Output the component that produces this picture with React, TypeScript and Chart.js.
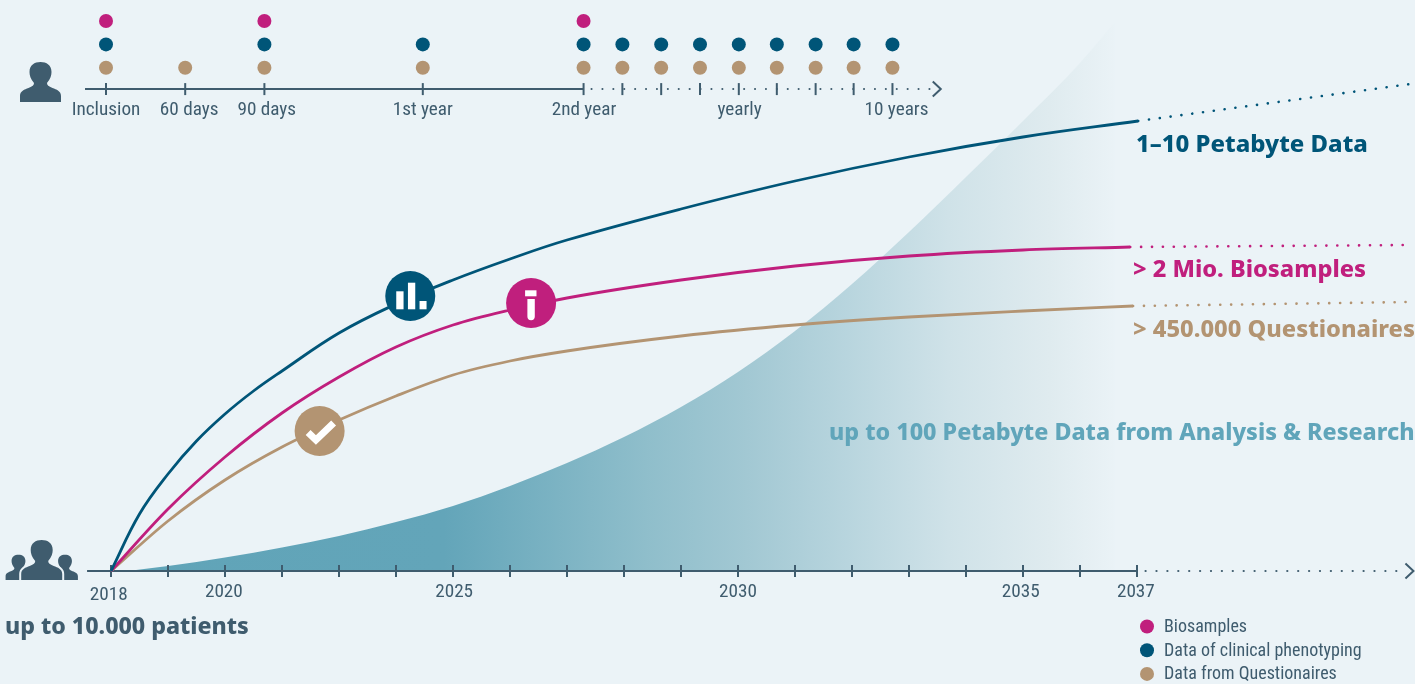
import React, { useEffect, useRef } from "react";
import { Chart, registerables } from "chart.js";

Chart.register(...registerables);

// ---- bottom time axis (x = axis step from 2018, y = relative growth index)
const axisTickSteps = [0, 1, 2, 3, 4, 5, 6, 7, 8, 9, 10, 11, 12, 13, 14, 15, 16, 17, 18];
const axisLabels = ["2020", "2025", "2030", "2035", "2037"];
const axisLabelSteps = [1.98, 6.02, 11, 15.96, 17.98];
const startLabels = ["2018"];
const startLabelSteps = [-0.04];

const clinicalX = [0, 0.5, 1, 1.5, 2, 2.5, 3, 4, 5, 6, 7, 8, 10, 12, 14, 16, 18.02];
const clinicalY = [0, 57, 97, 130, 157, 180, 200, 238, 267, 291, 312, 331, 362, 390, 414, 434, 450];
const biosampleX = [0, 1, 2, 3, 4, 5, 6, 7, 8, 10, 12, 14, 16, 17.88];
const biosampleY = [0, 62, 114, 158, 194, 224, 246, 261, 273, 291, 305, 315, 321, 324];
const questionX = [0, 1, 2, 3, 4, 5, 6, 7, 8, 10, 12, 14, 16, 17.93];
const questionY = [0, 50, 91, 124, 151, 175, 196, 210, 220, 235, 246, 254, 260, 265];
const researchX = [0.3, 1, 2, 3, 4, 5, 6, 7, 8, 9, 10, 11, 12, 13, 14, 15, 16, 17, 17.6];
const researchY = [0, 5, 13.5, 23.5, 35, 49, 65, 85, 108, 134, 164, 199, 240, 287, 339, 394, 450, 508, 548];

const clinicalTrendX = [18.02, 22.8];
const clinicalTrendY = [450, 487];
const biosampleTrendX = [17.88, 22.8];
const biosampleTrendY = [324, 326];
const questionTrendX = [17.93, 22.8];
const questionTrendY = [265, 269];

const iconX = [5.25, 7.37, 3.66];
const iconY = [275, 268, 140];

// ---- timeline (x = schedule step, y = row)
const timelineMarks = [0, 1, 2, 4, 6.03, 6.52, 7.01, 7.5, 7.99, 8.47, 8.96, 9.44, 9.93];
const timelineLabels = ["Inclusion", "60 days", "90 days", "1st year", "2nd year", "yearly", "10 years"];
const timelineLabelSteps = [0, 1.05, 2.03, 4, 6.035, 8, 9.98];
const biosampleVisits = [0, 2, 6.03];
const clinicalVisits = [0, 2, 4, 6.03, 6.52, 7.01, 7.5, 7.99, 8.47, 8.96, 9.44, 9.93];
const questionVisits = [0, 1, 2, 4, 6.03, 6.52, 7.01, 7.5, 7.99, 8.47, 8.96, 9.44, 9.93];

const legendLabels = ["Biosamples", "Data of clinical phenotyping", "Data from Questionaires"];

const MAGENTA = "#c01f7d";
const BLUE = "#005578";
const TAN = "#b39472";
const SLATE = "#3f5c6e";
const TEAL = "#60a5ba";
const BG = "#ebf3f7";
const NARROW = "'Roboto Condensed', Roboto, sans-serif";
const BOLD = "'Noto Sans', sans-serif";

const W = 1415;
const H = 684;
const pts = (xs: number[], ys: number[]) => xs.map((x, i) => ({ x, y: ys[i] }));
const flat = (xs: number[], y: number) => xs.map((x) => ({ x, y }));

const line = (data: any[], color: string, order: number, width = 2.8, x = "x", y = "y") => ({
  data,
  borderColor: color,
  borderWidth: width,
  showLine: true,
  pointRadius: 0,
  cubicInterpolationMode: "monotone",
  xAxisID: x,
  yAxisID: y,
  order,
});
const dotted = (data: any[], color: string, order: number, width = 2.6, x = "x", y = "y") => ({
  ...line(data, color, order, width, x, y),
  cubicInterpolationMode: "default",
  borderDash: [0.1, 10.8],
  borderCapStyle: "round",
});
const marks = (data: any[], x: string, y: string) => ({
  data,
  showLine: false,
  pointStyle: "line",
  pointRotation: 90,
  pointRadius: 6,
  pointBorderWidth: 2,
  pointBorderColor: SLATE,
  xAxisID: x,
  yAxisID: y,
  order: 3,
});
const dots = (data: any[], color: string, radius: number, order: number, x: string, y: string) => ({
  data,
  showLine: false,
  pointRadius: radius,
  pointBackgroundColor: color,
  pointBorderWidth: 0,
  xAxisID: x,
  yAxisID: y,
  order,
});

const axisLabelFont = { family: NARROW, size: 19.2 };
const labelAxis = (
  values: number[],
  labels: string[],
  position: any,
  padding: number,
  min: number,
  max: number
) => ({
  type: "linear",
  axis: "x",
  min,
  max,
  position,
  grid: { display: false },
  border: { display: false },
  afterBuildTicks: (scale: any) => {
    scale.ticks = values.map((value) => ({ value }));
  },
  ticks: {
    autoSkip: false,
    maxRotation: 0,
    padding,
    color: SLATE,
    font: axisLabelFont,
    callback: (v: number) => labels[values.indexOf(v)],
  },
});

function person(cx: number, bottom: number, s: number) {
  const p = new Path2D();
  const X = (v: number) => cx + v * s;
  const Y = (v: number) => bottom - (40 - v) * s;
  p.moveTo(X(-20.5), Y(40));
  p.lineTo(X(-20.5), Y(34));
  p.bezierCurveTo(X(-20.5), Y(29), X(-16), Y(27.5), X(-12), Y(26));
  p.bezierCurveTo(X(-8), Y(24.5), X(-6.5), Y(23), X(-6.5), Y(21));
  p.bezierCurveTo(X(-10), Y(17), X(-11), Y(13), X(-11), Y(10));
  p.bezierCurveTo(X(-11), Y(3), X(-6), Y(0), X(0), Y(0));
  p.bezierCurveTo(X(6), Y(0), X(11), Y(3), X(11), Y(10));
  p.bezierCurveTo(X(11), Y(13), X(10), Y(17), X(6.5), Y(21));
  p.bezierCurveTo(X(6.5), Y(23), X(8), Y(24.5), X(12), Y(26));
  p.bezierCurveTo(X(16), Y(27.5), X(20.5), Y(29), X(20.5), Y(34));
  p.lineTo(X(20.5), Y(40));
  p.closePath();
  return p;
}

function fitted(
  ctx: CanvasRenderingContext2D,
  text: string,
  left: number,
  centerY: number,
  width: number,
  color: string
) {
  ctx.font = `800 100px ${BOLD}`;
  const size = (100 * width) / ctx.measureText(text).width;
  ctx.font = `800 ${size}px ${BOLD}`;
  ctx.fillStyle = color;
  ctx.textAlign = "left";
  ctx.textBaseline = "middle";
  ctx.fillText(text, left, centerY);
}

function chevron(ctx: CanvasRenderingContext2D, x: number, y: number) {
  ctx.strokeStyle = SLATE;
  ctx.lineWidth = 2;
  ctx.beginPath();
  ctx.moveTo(x - 8, y - 7.5);
  ctx.lineTo(x, y);
  ctx.lineTo(x - 8, y + 7.5);
  ctx.stroke();
}

const overlay = {
  id: "overlay",
  afterDatasetsDraw(chart: any) {
    const { ctx, scales } = chart;
    ctx.save();
    // axis arrows
    chevron(ctx, scales.xTop.getPixelForValue(10.54), scales.yTop.getPixelForValue(0.09));
    chevron(ctx, scales.x.getPixelForValue(22.85), scales.y.getPixelForValue(0));

    // icon glyphs
    const ix = iconX.map((v) => scales.x.getPixelForValue(v));
    const iy = iconY.map((v) => scales.y.getPixelForValue(v));
    ctx.fillStyle = "#ffffff";
    ctx.fillRect(ix[0] - 14, iy[0] - 4.7, 7.3, 18);
    ctx.fillRect(ix[0] - 2.3, iy[0] - 13.3, 7.3, 26.6);
    ctx.fillRect(ix[0] + 9.3, iy[0] + 5, 7, 8.3);
    ctx.fillRect(ix[1] - 6, iy[1] - 12.7, 11.4, 6);
    ctx.beginPath();
    ctx.moveTo(ix[1] - 3.7, iy[1] - 4);
    ctx.lineTo(ix[1] + 3.7, iy[1] - 4);
    ctx.lineTo(ix[1] + 3.7, iy[1] + 13.6);
    ctx.arc(ix[1], iy[1] + 13.6, 3.7, 0, Math.PI);
    ctx.closePath();
    ctx.fill();
    ctx.strokeStyle = "#ffffff";
    ctx.lineWidth = 7;
    ctx.lineJoin = "miter";
    ctx.beginPath();
    ctx.moveTo(ix[2] - 11.5, iy[2] + 1.5);
    ctx.lineTo(ix[2] - 3.7, iy[2] + 9);
    ctx.lineTo(ix[2] + 14, iy[2] - 8);
    ctx.stroke();

    // people
    ctx.fillStyle = SLATE;
    ctx.fill(person(40.5, 102, 1));
    ctx.fill(person(18.5, 580, 0.63));
    ctx.fill(person(65, 580, 0.63));
    const crowd = person(41.7, 580, 1);
    ctx.strokeStyle = BG;
    ctx.lineWidth = 4;
    ctx.stroke(crowd);
    ctx.fillStyle = BG;
    ctx.fillRect(0, 580.5, 90, 4);
    ctx.fillStyle = SLATE;
    ctx.fill(crowd);

    // callouts
    fitted(ctx, "1\u201310 Petabyte Data", 1136, 145, 232, BLUE);
    fitted(ctx, "> 2 Mio. Biosamples", 1133, 270, 233, MAGENTA);
    fitted(ctx, "> 450.000 Questionaires", 1133, 330, 282, TAN);
    fitted(ctx, "up to 100 Petabyte Data from Analysis & Research", 829, 433, 586, TEAL);
    fitted(ctx, "up to 10.000 patients", 5, 627, 244, SLATE);

    // legend
    const colors = [MAGENTA, BLUE, TAN];
    ctx.textAlign = "left";
    ctx.textBaseline = "middle";
    ctx.font = `18px ${NARROW}`;
    legendLabels.forEach((label, i) => {
      const y = 626.5 + i * 23.7;
      ctx.fillStyle = colors[i];
      ctx.beginPath();
      ctx.arc(1147, y, 7, 0, Math.PI * 2);
      ctx.fill();
      ctx.fillStyle = SLATE;
      ctx.fillText(label, 1164, y + 1);
    });
    ctx.restore();
  },
};

const researchFill = (context: any) => {
  const { chart } = context;
  const gx = chart.scales.x;
  const x0 = gx.getPixelForValue(0);
  const x1 = gx.getPixelForValue(17.7);
  if (!Number.isFinite(x0) || !Number.isFinite(x1)) return TEAL;
  const g = chart.ctx.createLinearGradient(x0, 0, x1, 0);
  g.addColorStop(0, "#60a4b8");
  g.addColorStop(0.33, "#63a5b9");
  g.addColorStop(0.53, "#8fbecb");
  g.addColorStop(0.63, "#a2c8d3");
  g.addColorStop(0.73, "#b8d5de");
  g.addColorStop(0.83, "#cfe2e8");
  g.addColorStop(0.93, "#dfebef");
  g.addColorStop(1, BG);
  return g;
};

export default function App() {
  const ref = useRef<HTMLCanvasElement | null>(null);
  useEffect(() => {
    document.body.style.margin = "0";
    document.body.style.background = BG;
    const xMin = -111 / 57;
    const xMax = (W - 111) / 57;
    const tMin = -106 / 79.2;
    const tMax = (W - 106) / 79.2;
    const chart = new Chart(ref.current as HTMLCanvasElement, {
      type: "scatter",
      plugins: [overlay],
      data: {
        datasets: [
          {
            ...line(pts(researchX, researchY), "rgba(0,0,0,0)", 10, 0),
            backgroundColor: researchFill,
            fill: "origin",
          },
          line(flat([-0.42, 18], 0), SLATE, 5, 2),
          dotted(flat([18.15, 22.7], 0), SLATE, 5, 2.2),
          marks(flat(axisTickSteps, 0), "x", "y"),
          { ...line(pts(clinicalX, clinicalY), BLUE, 2), cubicInterpolationMode: "default", tension: 0.4 },
          line(pts(biosampleX, biosampleY), MAGENTA, 2),
          line(pts(questionX, questionY), TAN, 2),
          dotted(pts(clinicalTrendX, clinicalTrendY), BLUE, 2),
          dotted(pts(biosampleTrendX, biosampleTrendY), MAGENTA, 2),
          dotted(pts(questionTrendX, questionTrendY), TAN, 2),
          dots(pts(iconX.slice(0, 1), iconY.slice(0, 1)), BLUE, 25, 1, "x", "y"),
          dots(pts(iconX.slice(1, 2), iconY.slice(1, 2)), MAGENTA, 25, 1, "x", "y"),
          dots(pts(iconX.slice(2, 3), iconY.slice(2, 3)), TAN, 25, 1, "x", "y"),
          line(flat([-0.265, 6.03], 0.09), SLATE, 5, 2, "xTop", "yTop"),
          dotted(flat([6.13, 10.44], 0.09), SLATE, 5, 2, "xTop", "yTop"),
          marks(flat(timelineMarks, 0.09), "xTop", "yTop"),
          dots(flat(biosampleVisits, 3), MAGENTA, 7, 1, "xTop", "yTop"),
          dots(flat(clinicalVisits, 2), BLUE, 7, 1, "xTop", "yTop"),
          dots(flat(questionVisits, 1), TAN, 7, 1, "xTop", "yTop"),
        ] as any,
      },
      options: {
        animation: false,
        responsive: false,
        layout: { padding: 0, autoPadding: false },
        plugins: { legend: { display: false }, tooltip: { enabled: false } },
        scales: {
          y: { type: "linear", display: false, min: 571 - H, max: 571 },
          yTop: { type: "linear", display: false, min: (91.2 - H) / 23.4, max: 91.2 / 23.4 },
          x: labelAxis(axisLabelSteps, axisLabels, { y: 0 }, 2, xMin, xMax),
          xStart: labelAxis(startLabelSteps, startLabels, { y: -3 }, 2, xMin, xMax),
          xTop: labelAxis(timelineLabelSteps, timelineLabels, { yTop: 0.09 }, 2, tMin, tMax),
        } as any,
      },
    } as any);
    return () => chart.destroy();
  }, []);
  return (
    <div style={{ width: W, height: H, background: BG }}>
      <canvas ref={ref} width={W} height={H} style={{ display: "block" }} />
    </div>
  );
}
